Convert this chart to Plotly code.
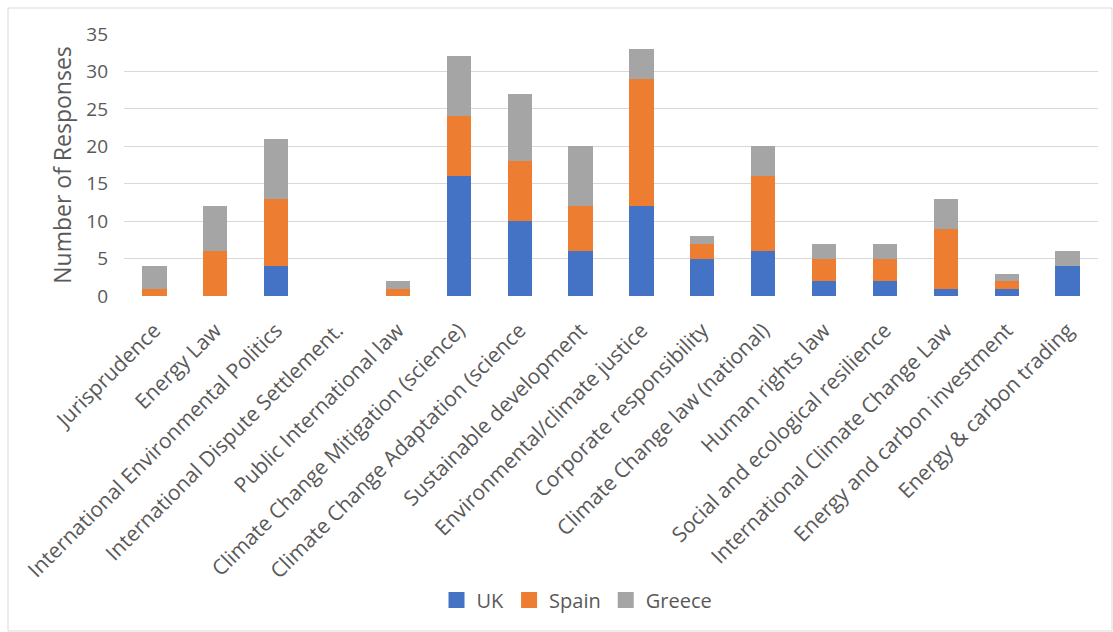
import plotly.graph_objects as go

categories = [
    "Jurisprudence", "Energy Law", "International Environmental Politics",
    "International Dispute Settlement.", "Public International law",
    "Climate Change Mitigation (science)", "Climate Change Adaptation (science",
    "Sustainable development", "Environmental/climate justice",
    "Corporate responsibility", "Climate Change law (national)",
    "Human rights law", "Social and ecological resilience",
    "International Climate Change Law", "Energy and carbon investment",
    "Energy & carbon trading",
]
uk     = [0, 0, 4, 0, 0, 16, 10, 6, 12, 5, 6, 2, 2, 1, 1, 4]
spain  = [1, 6, 9, 0, 1, 8, 8, 6, 17, 2, 10, 3, 3, 8, 1, 0]
greece = [3, 6, 8, 0, 1, 8, 9, 8, 4, 1, 4, 2, 2, 4, 1, 2]

series = [("UK", uk, "#4472C4"), ("Spain", spain, "#ED7D31"), ("Greece", greece, "#A5A5A5")]

fig = go.Figure()
for name, vals, col in series:
    fig.add_trace(go.Bar(x=categories, y=vals, name=name, marker_color=col,
                         marker_line_width=0, showlegend=False))
# legend entries with larger square swatches
for name, vals, col in series:
    fig.add_trace(go.Scatter(x=[None], y=[None], mode="markers", name=name,
                             marker=dict(symbol="square", size=18, color=col),
                             showlegend=True))

FONT = "Open Sans"
L, R, T, B = 124, 15, 34, 336
W, H = 1113, 632
pw, ph = W - L - R, H - T - B

def px(x):
    return (x - L) / pw

def py(y):
    return (H - B - y) / ph

fig.update_layout(
    barmode="stack",
    bargap=0.6,
    width=W, height=H,
    margin=dict(l=L, r=R, t=T, b=B, pad=0),
    paper_bgcolor="white", plot_bgcolor="white",
    font=dict(family=FONT, color="#595959"),
    showlegend=True,
    legend=dict(orientation="h", x=0.5 - 34 / pw, xanchor="center", y=py(600), yanchor="middle",
                font=dict(size=20, color="#595959"), traceorder="normal",
                itemclick=False),
    shapes=[dict(type="rect", xref="paper", yref="paper",
                 x0=px(8), x1=px(1112), y0=py(631), y1=py(8),
                 line=dict(color="#D9D9D9", width=1), fillcolor="rgba(0,0,0,0)")],
)
fig.update_xaxes(tickangle=-45, tickfont=dict(size=21, color="#595959"),
                 showgrid=False, showline=False, ticks="", ticklabelstandoff=17)
fig.update_yaxes(range=[0, 35], dtick=5, showgrid=True, gridcolor="#D9D9D9", gridwidth=1,
                 zeroline=False, showline=False, ticks="", ticklabelstandoff=15,
                 tickfont=dict(size=19, color="#595959"),
                 title=dict(text="Number of Responses", font=dict(size=23, color="#595959"), standoff=8))

fig.write_html("out.html")
